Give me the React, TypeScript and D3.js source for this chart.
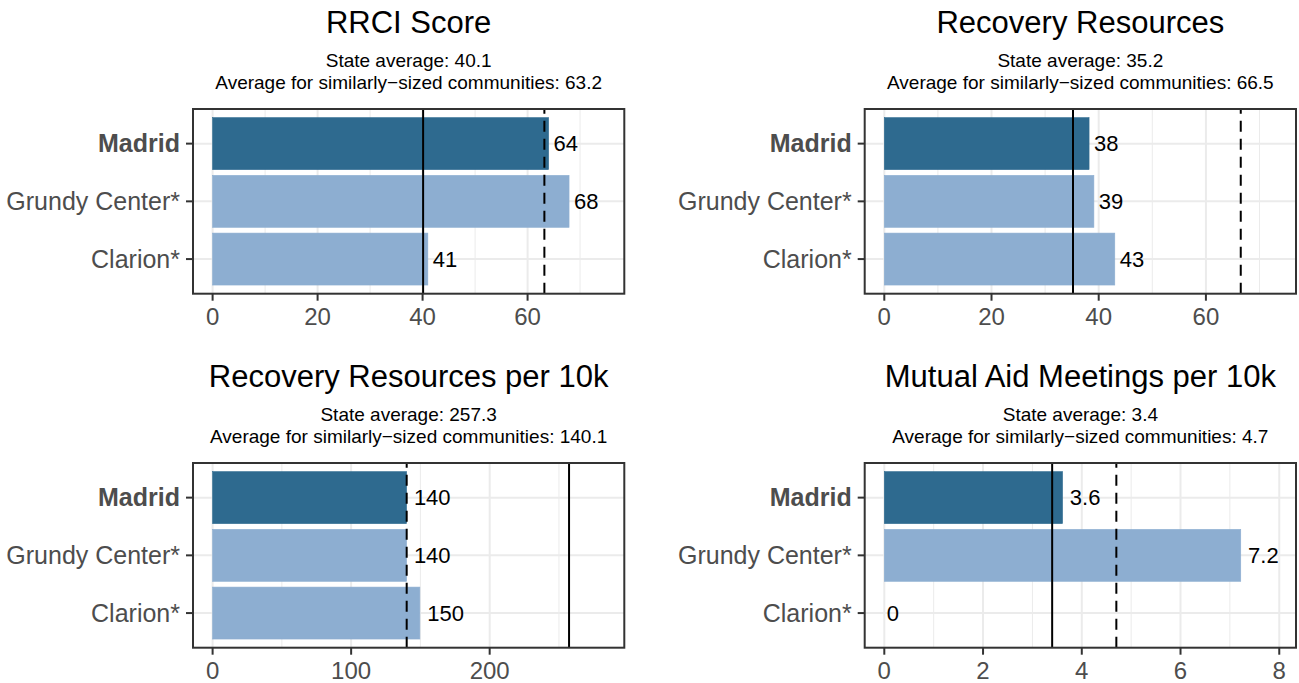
import * as d3 from 'd3'

// chart data
const communities = ['Madrid', 'Grundy Center*', 'Clarion*']
const panelTitles = ['RRCI Score', 'Recovery Resources', 'Recovery Resources per 10k', 'Mutual Aid Meetings per 10k']
const rrciScore = [64, 67.9, 41]
const recoveryResources = [38.2, 39.1, 43]
const resourcesPer10k = [140, 140, 149.6]
const meetingsPer10k = [3.61, 7.22, 0]
const stateAverages = [40.1, 35.2, 257.3, 3.4]
const similarAverages = [63.2, 66.5, 140.1, 4.7]
const xTicks = [
  [0, 20, 40, 60],
  [0, 20, 40, 60],
  [0, 100, 200],
  [0, 2, 4, 6, 8],
]

const seriesValues = [rrciScore, recoveryResources, resourcesPer10k, meetingsPer10k]

const W = 1299
const H = 683
const FONT = '"Liberation Sans", Arial, Helvetica, sans-serif'

// panel boxes: [left, right], [top, bottom]
const colX = [
  [193, 624.3],
  [864.7, 1296],
]
const rowY = [
  [109, 293.7],
  [463, 647.7],
]

const DARK = '#2E6A8F'
const LIGHT = '#8DAED1'
const GRID = '#EBEBEB'
const AXIS = '#333333'

const label = (v: number) => (v === 0 ? '0' : String(Number(v.toPrecision(2))))

function Panel({ i }: { i: number }) {
  const [x0, x1] = colX[i % 2]
  const [y0, y1] = rowY[Math.floor(i / 2)]
  const values = seriesValues[i]
  const state = stateAverages[i]
  const similar = similarAverages[i]

  // ggplot-like limits: max * 1.1, then 5% expansion each side
  const top = Math.max(...values, state, similar) * 1.1
  const pad = top * 0.05
  const x = d3.scaleLinear().domain([-pad, top + pad]).range([x0, x1])

  const y = d3
    .scalePoint<string>()
    .domain(communities)
    .range([y0, y1])
    .padding(0.6)
  const barH = y.step() * 0.9

  const ticks = xTicks[i]
  const tstep = ticks[1] - ticks[0]
  const minor: number[] = []
  for (let k = 0; k < ticks.length; k++) {
    const m = ticks[k] + tstep / 2
    if (m < top + pad) minor.push(m)
  }

  const cx = (x0 + x1) / 2
  return (
    <g>
      {/* titles */}
      <text x={cx} y={y0 - 76} textAnchor="middle" fontSize={31} fill="#000">
        {panelTitles[i]}
      </text>
      <text x={cx} y={y0 - 41.7} textAnchor="middle" fontSize={19} fill="#000">
        {'State average: ' + state}
      </text>
      <text x={cx} y={y0 - 19.7} textAnchor="middle" fontSize={19} fill="#000">
        {'Average for similarly\u2212sized communities: ' + similar}
      </text>

      {/* grid */}
      {minor.map((m) => (
        <line key={'mn' + m} x1={x(m)} x2={x(m)} y1={y0} y2={y1} stroke={GRID} strokeWidth={1} />
      ))}
      {ticks.map((t) => (
        <line key={'mj' + t} x1={x(t)} x2={x(t)} y1={y0} y2={y1} stroke={GRID} strokeWidth={2} />
      ))}
      {communities.map((c) => (
        <line key={'hg' + c} x1={x0} x2={x1} y1={y(c)} y2={y(c)} stroke={GRID} strokeWidth={2} />
      ))}

      {/* bars */}
      {communities.map((c, k) => (
        <rect
          key={'b' + c}
          x={x(0)}
          y={(y(c) as number) - barH / 2}
          width={Math.max(0, x(values[k]) - x(0))}
          height={barH}
          fill={k === 0 ? DARK : LIGHT}
          stroke={k === 0 ? DARK : LIGHT}
          strokeWidth={0.6}
        />
      ))}

      {/* value labels, hjust = -0.2 */}
      {communities.map((c, k) => {
        const s = label(values[k])
        const w = s.length * 0.556 * 22
        return (
          <text key={'v' + c} x={x(values[k]) + 0.2 * w} y={(y(c) as number) + 7.8} fontSize={22} fill="#000">
            {s}
          </text>
        )
      })}

      {/* reference lines */}
      <line x1={x(state)} x2={x(state)} y1={y1} y2={y0} stroke="#000" strokeWidth={2} />
      <line x1={x(similar)} x2={x(similar)} y1={y1} y2={y0} stroke="#000" strokeWidth={2} strokeDasharray="11,7" />

      {/* panel border */}
      <rect x={x0} y={y0} width={x1 - x0} height={y1 - y0} fill="none" stroke={AXIS} strokeWidth={2} />

      {/* x axis */}
      {ticks.map((t) => (
        <g key={'xt' + t}>
          <line x1={x(t)} x2={x(t)} y1={y1} y2={y1 + 7} stroke={AXIS} strokeWidth={2} />
          <text x={x(t)} y={y1 + 31.3} textAnchor="middle" fontSize={24} fill="#4D4D4D">
            {t}
          </text>
        </g>
      ))}

      {/* y axis */}
      {communities.map((c, k) => (
        <g key={'yt' + c}>
          <line x1={x0 - 7} x2={x0} y1={y(c)} y2={y(c)} stroke={AXIS} strokeWidth={2} />
          <text
            x={x0 - 13}
            y={(y(c) as number) + 8.8}
            textAnchor="end"
            fontSize={25}
            fontWeight={k === 0 ? 'bold' : 'normal'}
            fill="#4D4D4D"
          >
            {c}
          </text>
        </g>
      ))}
    </g>
  )
}

export default function App() {
  return (
    <div style={{ position: 'absolute', left: 0, top: 0 }}>
      <svg width={W} height={H} style={{ display: 'block', fontFamily: FONT }}>
        <rect width={W} height={H} fill="#fff" />
        {[0, 1, 2, 3].map((i) => (
          <Panel key={i} i={i} />
        ))}
      </svg>
    </div>
  )
}
